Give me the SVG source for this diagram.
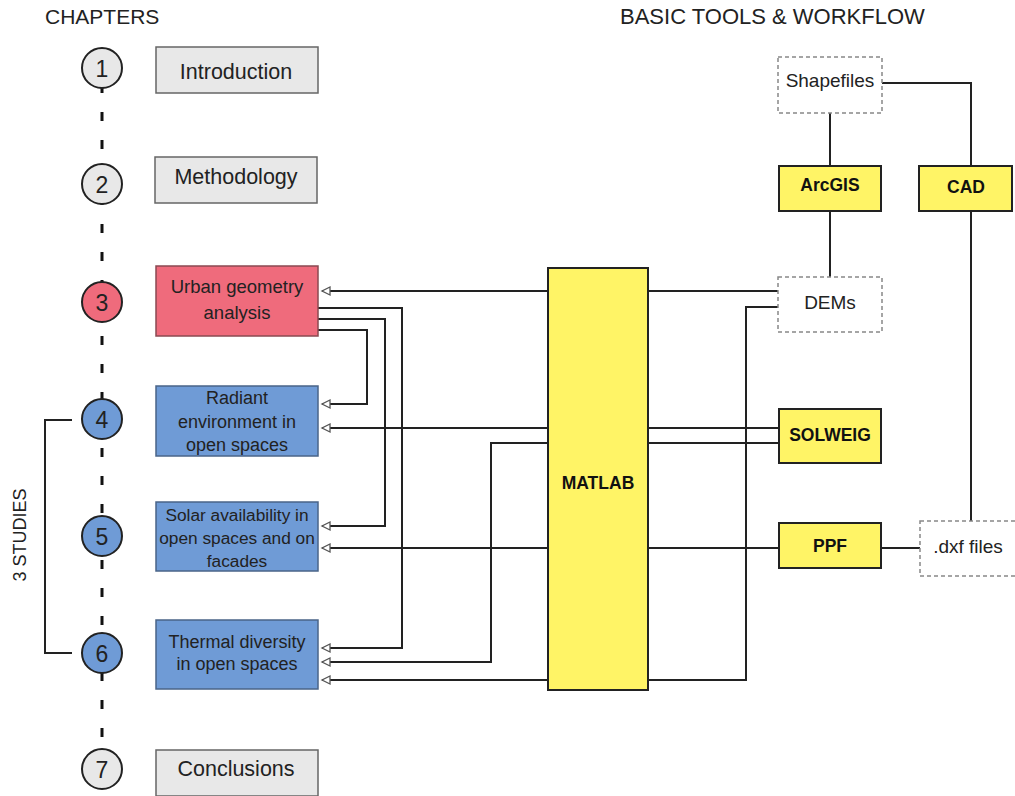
<svg xmlns="http://www.w3.org/2000/svg" width="1015" height="796" viewBox="0 0 1015 796">
<style>
text{font-family:"Liberation Sans",Arial,sans-serif;fill:#222;text-anchor:middle;dominant-baseline:central}
.hdr{font-size:21px;text-anchor:start;dominant-baseline:auto}
.lbl{font-size:18px}
.sm{font-size:17.3px}
.big{font-size:21.5px}
.file{font-size:19px}
.num{font-size:23px}
.tool{font-size:17.5px;font-weight:bold;fill:#111}
.gray{fill:#e8e8e8;stroke:#666;stroke-width:1.5}
.pink{fill:#ef6b7c;stroke:#8a4a52;stroke-width:1.5}
.blue{fill:#6f9bd6;stroke:#4a6488;stroke-width:1.5}
.yel{fill:#fff466;stroke:#222;stroke-width:2}
.dash{fill:#fff;stroke:#888;stroke-width:1.5;stroke-dasharray:4 3}
.c{fill:none;stroke:#222;stroke-width:2}
.ca{fill:none;stroke:#222;stroke-width:2;marker-end:url(#arr)}
</style>
<defs>
<marker id="arr" markerUnits="userSpaceOnUse" markerWidth="12" markerHeight="12" refX="9" refY="5" orient="auto">
<path d="M1,1 L9,5 L1,9 Z" fill="#fff" stroke="#555" stroke-width="1.3"/>
</marker>
</defs>
<text class="hdr" x="45" y="24">CHAPTERS</text>
<text class="hdr" x="620" y="24" style="font-size:22px">BASIC TOOLS &amp; WORKFLOW</text>
<line x1="102" y1="84" x2="102" y2="752" stroke="#111" stroke-width="3" stroke-dasharray="9 19"/>
<g id="studies">
<path class="c" d="M72,420 H45 V653 H72"/>
<text x="20" y="535" font-size="18" transform="rotate(-90 20 535)">3 STUDIES</text>
</g>
<g id="connectors">
<path class="ca" d="M548,291 H322"/>
<path class="c" d="M778,291 H648"/>
<path class="ca" d="M318,308 H402 V648 H322"/>
<path class="ca" d="M318,319 H385 V526 H322"/>
<path class="ca" d="M318,330 H367 V404 H322"/>
<path class="c" d="M779,428 H648"/>
<path class="ca" d="M548,428 H322"/>
<path class="c" d="M779,443 H648"/>
<path class="ca" d="M548,443 H491 V662 H322"/>
<path class="c" d="M779,548 H648"/>
<path class="ca" d="M548,548 H322"/>
<path class="c" d="M778,307 H746 V680 H648"/>
<path class="ca" d="M548,680 H322"/>
<path class="c" d="M830,113 V166"/>
<path class="c" d="M830,211 V277"/>
<path class="c" d="M882,83 H971 V166"/>
<path class="c" d="M971,211 V521"/>
<path class="c" d="M881,548 H920"/>
</g>
<g id="c1"><circle class="gray" cx="102" cy="68" r="20" style="stroke:#222;stroke-width:2"/><text class="num" x="102" y="69">1</text></g>
<g id="c2"><circle class="gray" cx="102" cy="184" r="20" style="stroke:#222;stroke-width:2"/><text class="num" x="102" y="185">2</text></g>
<g id="c3"><circle class="pink" cx="102" cy="302" r="20" style="stroke:#222;stroke-width:2"/><text class="num" x="102" y="303">3</text></g>
<g id="c4"><circle class="blue" cx="102" cy="419" r="20" style="stroke:#222;stroke-width:2"/><text class="num" x="102" y="420">4</text></g>
<g id="c5"><circle class="blue" cx="102" cy="536" r="20" style="stroke:#222;stroke-width:2"/><text class="num" x="102" y="537">5</text></g>
<g id="c6"><circle class="blue" cx="102" cy="653" r="20" style="stroke:#222;stroke-width:2"/><text class="num" x="102" y="654">6</text></g>
<g id="c7"><circle class="gray" cx="102" cy="769" r="20" style="stroke:#222;stroke-width:2"/><text class="num" x="102" y="770">7</text></g>
<g id="intro"><rect class="gray" x="156" y="47" width="162" height="46"/><text class="big" x="236" y="72">Introduction</text></g>
<g id="method"><rect class="gray" x="155" y="157" width="162" height="46"/><text class="big" x="236" y="177">Methodology</text></g>
<g id="urban"><rect class="pink" x="156" y="266" width="162" height="70"/><text class="lbl" x="237" y="286" style="font-size:18.5px">Urban geometry</text><text class="lbl" x="237" y="312" style="font-size:18.5px">analysis</text></g>
<g id="radiant"><rect class="blue" x="156" y="386" width="162" height="70"/><text class="lbl" x="237" y="398">Radiant</text><text class="lbl" x="237" y="422">environment in</text><text class="lbl" x="237" y="445">open spaces</text></g>
<g id="solar"><rect class="blue" x="156" y="502" width="162" height="69"/><text class="sm" x="237" y="515">Solar availability in</text><text class="sm" x="237" y="538">open spaces and on</text><text class="sm" x="237" y="561">facades</text></g>
<g id="thermal"><rect class="blue" x="156" y="620" width="162" height="69"/><text class="lbl" x="237" y="642">Thermal diversity</text><text class="lbl" x="237" y="664">in open spaces</text></g>
<g id="concl"><rect class="gray" x="156" y="750" width="162" height="46"/><text class="big" x="236" y="769">Conclusions</text></g>
<g id="matlab"><rect class="yel" x="548" y="268" width="100" height="422"/><text class="tool" x="598" y="483">MATLAB</text></g>
<g id="shapefiles"><rect class="dash" x="778" y="57" width="104" height="56"/><text class="file" x="830" y="80">Shapefiles</text></g>
<g id="arcgis"><rect class="yel" x="779" y="166" width="102" height="45"/><text class="tool" x="830" y="185">ArcGIS</text></g>
<g id="cad"><rect class="yel" x="919" y="166" width="93" height="45"/><text class="tool" x="966" y="187">CAD</text></g>
<g id="dems"><rect class="dash" x="778" y="277" width="104" height="55"/><text class="file" x="830" y="302">DEMs</text></g>
<g id="solweig"><rect class="yel" x="779" y="409" width="102" height="54"/><text class="tool" x="830" y="435">SOLWEIG</text></g>
<g id="ppf"><rect class="yel" x="779" y="523" width="102" height="45"/><text class="tool" x="830" y="546">PPF</text></g>
<g id="dxf"><rect class="dash" x="920" y="521" width="97" height="55"/><text class="file" x="968" y="546">.dxf files</text></g>
</svg>
